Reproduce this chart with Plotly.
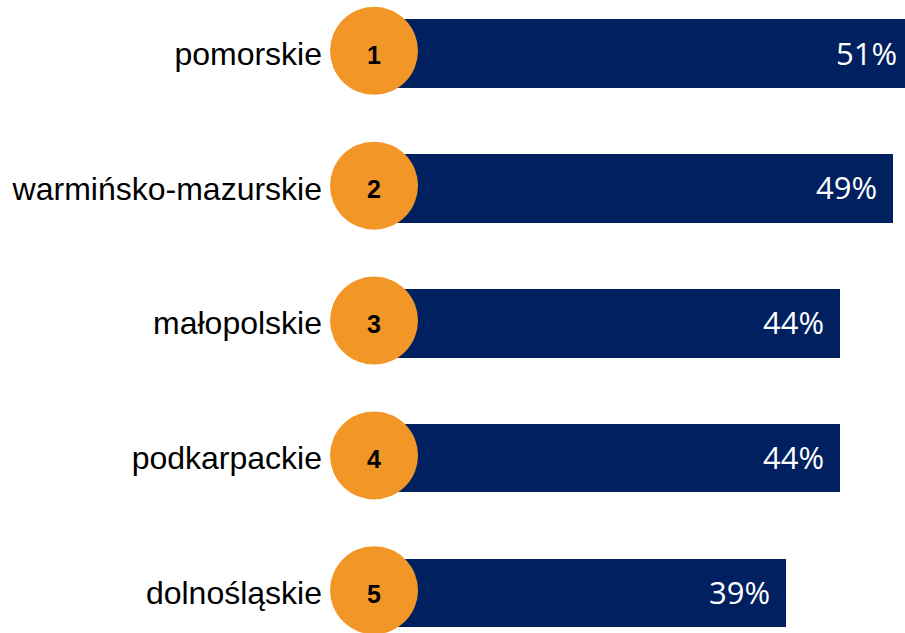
import plotly.graph_objects as go

# Regions ranked by share
regions = ["pomorskie", "warmińsko-mazurskie", "małopolskie", "podkarpackie", "dolnośląskie"]
shares = [51, 49, 44, 44, 39]
ranks = ["1", "2", "3", "4", "5"]
value_labels = ["51%", "49%", "44%", "44%", "39%"]

NAVY = "#002060"
ORANGE = "#F29727"
X_MAX = 50.09
BADGE_X = 0.47

pos = list(range(len(regions)))

fig = go.Figure()

fig.add_trace(go.Bar(
    x=shares,
    y=pos,
    orientation="h",
    width=0.51,
    marker=dict(color=NAVY, line=dict(width=0)),
    hoverinfo="skip",
))

# Rank badges at the start of each bar
fig.add_trace(go.Scatter(
    x=[BADGE_X] * len(pos),
    y=[p - 0.02 for p in pos],
    mode="markers",
    marker=dict(size=88, color=ORANGE, line=dict(width=0)),
    cliponaxis=False,
    hoverinfo="skip",
))

for p, r in zip(pos, ranks):
    fig.add_annotation(
        x=BADGE_X, y=p, xref="x", yref="y",
        text=f"<b>{r}</b>", showarrow=False,
        xanchor="center", yanchor="middle", yshift=-1,
        font=dict(family="Liberation Sans, Arial, sans-serif", size=25, color="#000000"),
    )

# Percentage labels inside the visible end of each bar
for p, v, lab in zip(pos, shares, value_labels):
    fig.add_annotation(
        x=min(v, X_MAX), y=p, xref="x", yref="y",
        text=lab, showarrow=False,
        xanchor="right", xshift=-14 if v <= X_MAX else -6, yshift=1,
        font=dict(family="Open Sans, sans-serif", size=31, color="#FFFFFF"),
    )

fig.update_layout(
    width=905, height=633,
    margin=dict(l=369, r=0, t=0, b=0),
    paper_bgcolor="#FFFFFF",
    plot_bgcolor="#FFFFFF",
    showlegend=False,
    bargap=0,
)

fig.update_xaxes(range=[0, X_MAX], visible=False, fixedrange=True)
fig.update_yaxes(
    range=[4.297, -0.397],
    tickvals=pos,
    ticktext=regions,
    showgrid=False, zeroline=False, showline=False,
    ticks="",
    ticklabelstandoff=46,
    tickfont=dict(family="Liberation Sans, Arial, sans-serif", size=32, color="#000000"),
    fixedrange=True,
)

fig.write_html("out.html")
